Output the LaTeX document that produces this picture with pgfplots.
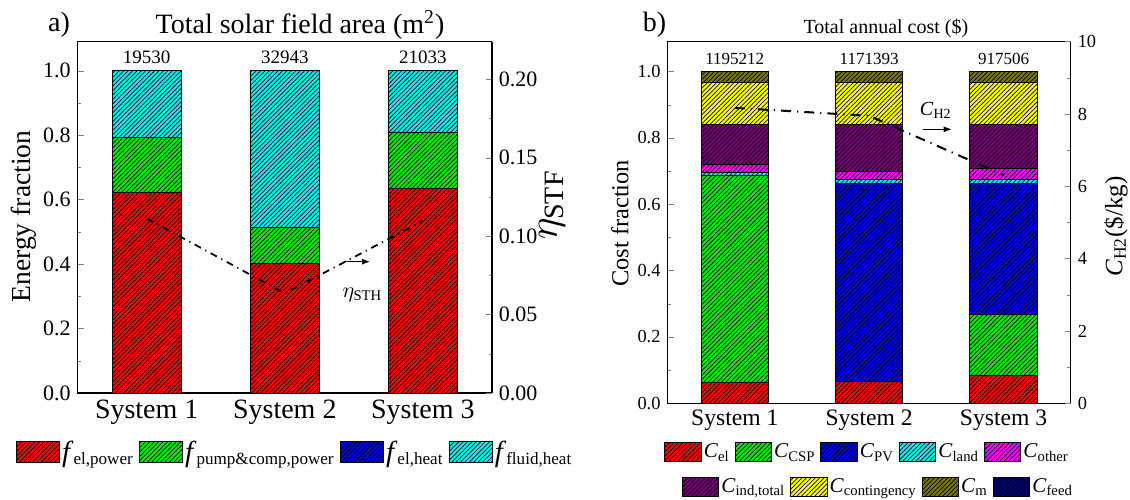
\documentclass[border=0pt]{standalone}
\usepackage{fontspec}
\setmainfont{Liberation Serif}
\usepackage{pgfplots}
\pgfplotsset{compat=1.18}
\usetikzlibrary{patterns.meta,arrows.meta}

\definecolor{cRed}{RGB}{255,0,0}
\definecolor{cGreen}{RGB}{0,235,0}
\definecolor{cBlue}{RGB}{0,0,235}
\definecolor{cCyan}{RGB}{0,240,240}
\definecolor{cMag}{RGB}{255,0,255}
\definecolor{cPurple}{RGB}{120,0,120}
\definecolor{cYellow}{RGB}{255,255,0}
\definecolor{cOlive}{RGB}{120,120,0}
\definecolor{cNavy}{RGB}{0,0,120}

\tikzset{hb/.style={fill=#1, draw=black, line width=0.5pt,
  postaction={pattern={Lines[angle=45,distance=1.56pt,line width=0.35pt]}}}}
\newcommand{\bigf}{\textit{\fontsize{14.5}{16}\selectfont f}}

\begin{document}
\begin{tikzpicture}
\useasboundingbox (0,0) rectangle (565pt,249.5pt);

% ---------------- panel a ----------------
\begin{axis}[
  at={(38.85pt,53pt)}, anchor=south west, scale only axis,
  width=207.1pt, height=175.65pt,
  ybar stacked, bar width=0.5,
  xmin=0.5, xmax=3.5, ymin=0, ymax=1.09,
  xtick={1,2,3}, xticklabels={System 1,System 2,System 3},
  x tick style={draw=none},
  ytick={0,0.2,0.4,0.6,0.8,1.0}, minor ytick={0.1,0.3,0.5,0.7,0.9},
  ytick pos=left, tick align=inside,
  major tick length=3pt, minor tick length=1.7pt,
  axis line style={line width=0.6pt},
  /pgf/number format/assume math mode=true,
  yticklabel style={font=\fontsize{11}{13}\selectfont,
    /pgf/number format/.cd, fixed, fixed zerofill, precision=1, /tikz/.cd},
  xticklabel style={font=\fontsize{14}{16}\selectfont},
  legend image code/.code={\draw[#1] (0pt,-5.25pt) rectangle (21.4pt,5.25pt);},
  legend style={at={(-0.1492,-0.1688)}, anchor=west, draw=none, fill=none,
    inner sep=0pt, legend columns=4,
    font=\fontsize{12.2}{15}\selectfont,
    nodes={inner sep=1pt},
    /tikz/every even column/.append style={column sep=1.8pt}},
  legend cell align=left,
]
\addplot[hb=cRed] coordinates {(1,0.622) (2,0.403) (3,0.633)};
\addlegendentry{\bigf\textsubscript{el,power}}
\addplot[hb=cGreen] coordinates {(1,0.172) (2,0.111) (3,0.175)};
\addlegendentry{\bigf\textsubscript{pump\&comp,power}}
\addlegendimage{hb=cBlue}
\addlegendentry{\bigf\textsubscript{el,heat}}
\addplot[hb=cCyan] coordinates {(1,0.206) (2,0.486) (3,0.192)};
\addlegendentry{\bigf\textsubscript{fluid,heat}}
\node[anchor=south, inner sep=3.5pt, font=\fontsize{9.5}{11}\selectfont] at (axis cs:1,1) {19530};
\node[anchor=south, inner sep=3.5pt, font=\fontsize{9.5}{11}\selectfont] at (axis cs:2,1) {32943};
\node[anchor=south, inner sep=3.5pt, font=\fontsize{9.5}{11}\selectfont] at (axis cs:3,1) {21033};
\end{axis}

\begin{axis}[
  at={(38.85pt,53pt)}, anchor=south west, scale only axis,
  width=207.1pt, height=175.65pt,
  xmin=0.5, xmax=3.5, ymin=0, ymax=0.224,
  axis x line=none, axis y line*=right,
  ytick={0,0.05,0.1,0.15,0.2}, minor ytick={0.025,0.075,0.125,0.175},
  tick align=inside, major tick length=3pt, minor tick length=1.7pt,
  axis line style={line width=0.6pt},
  scaled y ticks=false,
  /pgf/number format/assume math mode=true,
  yticklabel style={font=\fontsize{11}{13}\selectfont,
    /pgf/number format/.cd, fixed, fixed zerofill, precision=2, /tikz/.cd},
]
\addplot[black, line width=0.9pt, dash pattern=on 3.5pt off 2.5pt on 0.6pt off 2.5pt, mark=none]
  coordinates {(1,0.1113) (2,0.0635) (3,0.1097)};
\end{axis}

% ---------------- panel b ----------------
\begin{axis}[
  at={(333.8pt,47.85pt)}, anchor=south west, scale only axis,
  width=201.55pt, height=180.8pt,
  ybar stacked, bar width=0.5,
  xmin=0.5, xmax=3.5, ymin=0, ymax=1.09,
  xtick={1,2,3}, xticklabels={System 1,System 2,System 3},
  x tick style={draw=none},
  ytick={0,0.2,0.4,0.6,0.8,1.0}, minor ytick={0.1,0.3,0.5,0.7,0.9},
  ytick pos=left, tick align=inside,
  major tick length=3pt, minor tick length=1.7pt,
  axis line style={line width=0.6pt},
  /pgf/number format/assume math mode=true,
  yticklabel style={font=\fontsize{9.2}{11}\selectfont,
    /pgf/number format/.cd, fixed, fixed zerofill, precision=1, /tikz/.cd},
  xticklabel style={font=\fontsize{11.8}{14}\selectfont},
  legend image code/.code={\draw[#1] (0pt,-4.8pt) rectangle (18.25pt,4.8pt);},
  legend style={at={(-0.0092,-0.1355)}, anchor=west, draw=none, fill=none,
    inner sep=0pt, legend columns=5,
    font=\fontsize{10.5}{13}\selectfont,
    nodes={inner sep=1pt},
    /tikz/every even column/.append style={column sep=1.5pt}},
  legend cell align=left,
]
\addplot[hb=cRed] coordinates {(1,0.063) (2,0.065) (3,0.084)};
\addlegendentry{\textit{C}\textsubscript{el}}
\addplot[hb=cGreen] coordinates {(1,0.625) (2,0) (3,0.184)};
\addlegendentry{\textit{C}\textsubscript{CSP}}
\addplot[hb=cBlue] coordinates {(1,0) (2,0.598) (3,0.395)};
\addlegendentry{\textit{C}\textsubscript{PV}}
\addplot[hb=cCyan] coordinates {(1,0.007) (2,0.012) (3,0.012)};
\addlegendentry{\textit{C}\textsubscript{land}}
\addplot[hb=cMag] coordinates {(1,0.026) (2,0.025) (3,0.033)};
\addlegendentry{\textit{C}\textsubscript{other}}
\addplot[hb=cPurple] coordinates {(1,0.120) (2,0.141) (3,0.133)};
\addplot[hb=cYellow] coordinates {(1,0.126) (2,0.126) (3,0.126)};
\addplot[hb=cOlive] coordinates {(1,0.033) (2,0.033) (3,0.033)};
\addplot[hb=cNavy] coordinates {(1,0) (2,0) (3,0)};
\node[anchor=south, inner sep=3.2pt, font=\fontsize{8.5}{10}\selectfont] at (axis cs:1,1) {1195212};
\node[anchor=south, inner sep=3.2pt, font=\fontsize{8.5}{10}\selectfont] at (axis cs:2,1) {1171393};
\node[anchor=south, inner sep=3.2pt, font=\fontsize{8.5}{10}\selectfont] at (axis cs:3,1) {917506};
\end{axis}

\begin{axis}[
  at={(333.8pt,47.85pt)}, anchor=south west, scale only axis,
  width=201.55pt, height=180.8pt,
  xmin=0.5, xmax=3.5, ymin=0, ymax=10,
  axis x line=none, axis y line*=right,
  ytick={0,2,4,6,8,10}, minor ytick={1,3,5,7,9},
  tick align=inside, major tick length=3pt, minor tick length=1.7pt,
  axis line style={line width=0.6pt},
  /pgf/number format/assume math mode=true,
  yticklabel style={font=\fontsize{9.2}{11}\selectfont},
]
\addplot[black, line width=1pt, dash pattern=on 5pt off 3pt on 0.6pt off 3pt, mark=none]
  coordinates {(1,8.17) (2,7.95) (3,6.31)};
\end{axis}

% second legend row of panel b
\begin{axis}[
  at={(333.8pt,47.85pt)}, anchor=south west, scale only axis,
  width=201.55pt, height=180.8pt, hide axis,
  xmin=0, xmax=1, ymin=0, ymax=1,
  legend image code/.code={\draw[#1] (0pt,-4.8pt) rectangle (18.25pt,4.8pt);},
  legend style={at={(0.0345,-0.2306)}, anchor=west, draw=none, fill=none,
    inner sep=0pt, legend columns=4,
    font=\fontsize{10.5}{13}\selectfont,
    nodes={inner sep=1pt},
    /tikz/every even column/.append style={column sep=1.5pt}},
  legend cell align=left,
]
\addlegendimage{hb=cPurple}
\addlegendentry{\textit{C}\textsubscript{ind,total}}
\addlegendimage{hb=cYellow}
\addlegendentry{\textit{C}\textsubscript{contingency}}
\addlegendimage{hb=cOlive}
\addlegendentry{\textit{C}\textsubscript{m}}
\addlegendimage{hb=cNavy}
\addlegendentry{\textit{C}\textsubscript{feed}}
\end{axis}

% ---------------- texts ----------------
\node[font=\fontsize{14}{16}\selectfont] at (29.5pt,237pt) {a)};
\node[font=\fontsize{14}{16}\selectfont] at (150pt,237pt) {Total solar field area (m\textsuperscript{2})};
\node[font=\fontsize{13.8}{16}\selectfont, rotate=90] at (12pt,141.25pt) {Energy fraction};
\node[font=\fontsize{20}{22}\selectfont, rotate=90] at (276pt,147pt) {$\eta_{\mathrm{STF}}$};
\node[font=\fontsize{10.5}{12}\selectfont] at (181.25pt,102pt) {$\eta_{\mathrm{STH}}$};
\draw[-{Latex[length=4pt,width=3pt]}, line width=0.5pt] (172.5pt,118.65pt) -- (185pt,118.65pt);

\node[font=\fontsize{14}{16}\selectfont] at (327.25pt,237pt) {b)};
\node[font=\fontsize{10}{12}\selectfont] at (442.95pt,235.35pt) {Total annual cost (\$)};
\node[font=\fontsize{12.2}{14}\selectfont, rotate=90] at (310pt,137.85pt) {Cost fraction};
\node[font=\fontsize{12.5}{14}\selectfont, rotate=90] at (558pt,136.15pt) {\textit{C}\textsubscript{H2}(\$/kg)};
\node[font=\fontsize{10}{12}\selectfont] at (467.9pt,194.5pt) {\textit{C}\textsubscript{H2}};
\draw[-{Latex[length=4pt,width=3pt]}, line width=0.5pt] (461.35pt,184.85pt) -- (475.85pt,184.85pt);
\end{tikzpicture}
\end{document}
